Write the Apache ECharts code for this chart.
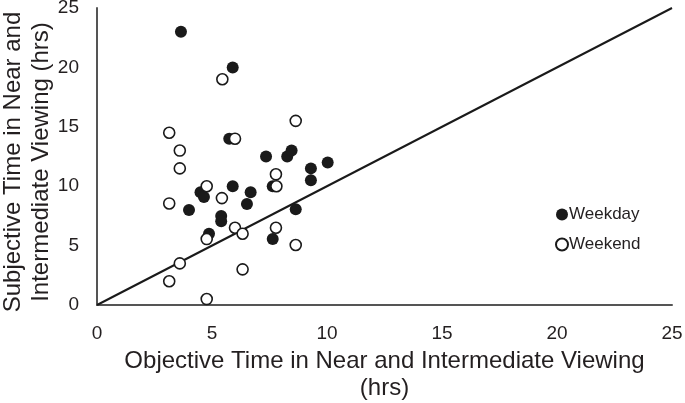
<!DOCTYPE html>
<html>
<head>
<meta charset="utf-8">
<script src="https://cdn.jsdelivr.net/npm/echarts@6/dist/echarts.min.js"></script>
<style>
  html, body { margin: 0; padding: 0; background: #fff; }
  #chart { width: 685px; height: 403px; }
</style>
</head>
<body>
<div id="chart"></div>
<script>
// data (hrs)
const weekday = [
  [3.65, 23], [5.9, 20], [5.75, 14], [7.35, 12.5], [8.27, 12.5], [8.46, 13],
  [9.3, 11.5], [9.3, 10.5], [10.03, 12], [7.64, 10], [5.9, 10], [4.5, 9.5],
  [4.65, 9.1], [6.68, 9.5], [6.52, 8.5], [4.0, 8.0], [5.4, 7.5], [5.4, 7.05],
  [4.87, 6.0], [8.64, 8.05], [7.64, 5.55]
]
const weekend = [
  [5.45, 19], [6.0, 14], [3.14, 14.5], [3.6, 13], [3.6, 11.5], [8.64, 15.5],
  [7.78, 11], [7.8, 10], [4.77, 10], [5.43, 9], [3.14, 8.55], [6.0, 6.5],
  [6.33, 6.0], [4.77, 5.55], [7.78, 6.5], [8.64, 5.05], [3.6, 3.5], [3.14, 2.0],
  [6.33, 3.0], [4.77, 0.5]
]
const identityLine = [[0, 0], [25, 25]]

const textColor = '#231f20'
const font = 'Liberation Sans, Arial, sans-serif'

const chart = echarts.init(document.getElementById('chart'))
chart.setOption({
  animation: false,
  textStyle: { fontFamily: font, color: textColor },
  grid: { left: 97, right: 13, top: 8, bottom: 98, containLabel: false, outerBoundsMode: 'none' },
  legend: {
    orient: 'vertical',
    left: 550,
    top: 201,
    itemGap: 13,
    itemWidth: 12,
    itemHeight: 12,
    data: ['Weekday', 'Weekend'],
    textStyle: { fontSize: 17, color: textColor, fontFamily: font, padding: [0, 0, 0, -4] }
  },
  // y axis title drawn as text so it can sit a bit below the axis middle, like the original
  graphic: [{
    type: 'text',
    x: 27,
    y: 162,
    rotation: Math.PI / 2,
    style: {
      text: 'Subjective Time in Near and\nIntermediate Viewing (hrs)',
      font: '24px Liberation Sans, Arial, sans-serif',
      fill: textColor,
      align: 'center',
      verticalAlign: 'middle',
      lineHeight: 28
    }
  }],
  xAxis: {
    type: 'value',
    min: 0, max: 25, interval: 5,
    name: 'Objective Time in Near and Intermediate Viewing\n(hrs)',
    nameLocation: 'middle',
    nameGap: 38,
    nameTextStyle: { fontSize: 24, lineHeight: 27, color: textColor },
    axisLine: { lineStyle: { color: '#555', width: 2 } },
    axisTick: { show: false },
    splitLine: { show: false },
    axisLabel: { fontSize: 19, color: textColor, margin: 19 }
  },
  yAxis: {
    type: 'value',
    min: 0, max: 25, interval: 5,
    axisLine: { show: true, lineStyle: { color: '#555', width: 2 } },
    axisTick: { show: false },
    splitLine: { show: false },
    axisLabel: { fontSize: 19, color: textColor, margin: 18 }
  },
  series: [
    {
      name: 'identity',
      type: 'line',
      data: identityLine,
      symbol: 'none',
      lineStyle: { color: '#1a1a1a', width: 2 },
      silent: true,
      z: 1
    },
    {
      name: 'Weekday',
      type: 'scatter',
      data: weekday,
      symbol: 'circle',
      symbolSize: 12,
      itemStyle: { color: '#1a1a1a', opacity: 1 },
      z: 2
    },
    {
      name: 'Weekend',
      type: 'scatter',
      data: weekend,
      symbol: 'circle',
      symbolSize: 11,
      itemStyle: { color: '#fff', borderColor: '#1a1a1a', borderWidth: 1.6, opacity: 1 },
      z: 3
    }
  ]
})
</script>
</body>
</html>
